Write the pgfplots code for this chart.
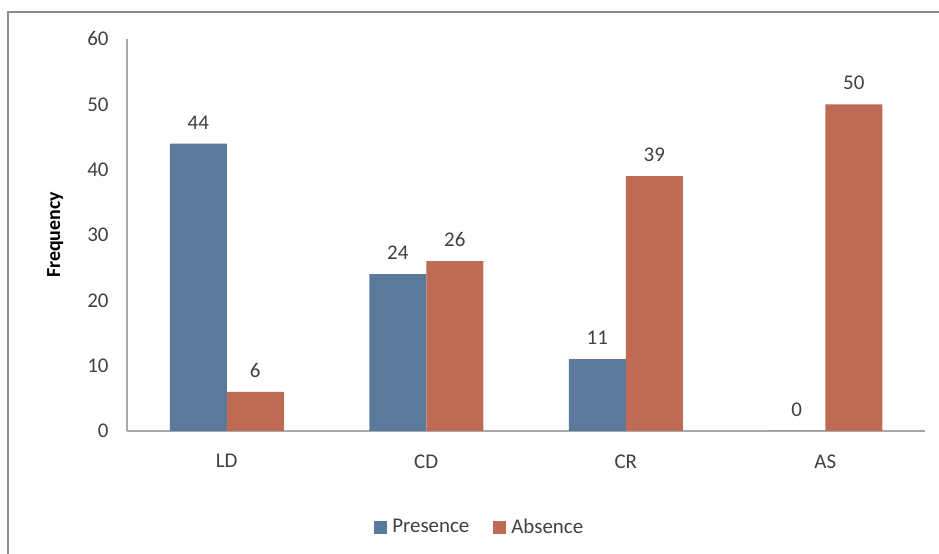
\documentclass[border=0pt]{standalone}
\usepackage{pgfplots}
\pgfplotsset{compat=1.18}
\usepackage{fontspec}
\setmainfont{Carlito}
\definecolor{pres}{HTML}{5B7A9B}
\definecolor{absc}{HTML}{BF6A52}
\definecolor{txt}{HTML}{404040}
\definecolor{axc}{HTML}{A8A8A8}
\begin{document}
\begin{tikzpicture}[x=1bp,y=1bp]
\useasboundingbox (0,0) rectangle (939,554);
\draw[color={rgb,255:red,140;green,140;blue,140}, line width=2bp] (8,0) -- (8,542) -- (939,542);
\begin{axis}[
  at={(127bp,123bp)}, anchor=south west,
  scale only axis, width=798bp, height=392bp,
  ymin=0, ymax=60, xmin=-0.5, xmax=3.5,
  ytick={0,10,20,30,40,50,60},
  xtick={0,1,2,3}, xticklabels={LD,CD,CR,AS},
  axis x line*=bottom, axis y line*=left,
  axis line style={axc, line width=1.5bp},
  major tick length=0pt,
  /pgf/number format/assume math mode=true,
  tick label style={font=\fontsize{21}{25}\selectfont, text=txt},
  yticklabel style={xshift=-15bp},
  xticklabel style={yshift=-20bp},
  ylabel={Frequency},
  every axis y label/.style={at={(axis description cs:-0.09,0.5)}, rotate=90, anchor=center,
    font=\bfseries\fontsize{20}{24}\selectfont, text=black},
  ybar=0pt, bar width=57bp,
  nodes near coords,
  every node near coord/.append style={font=\fontsize{21}{25}\selectfont, text=txt, yshift=11bp},
  legend style={draw=none, fill=none, legend columns=2, at={(0.442,-0.245)}, anchor=center,
    font=\fontsize{21}{25}\selectfont, text=txt,
    /tikz/every odd column/.append style={column sep=3bp},
    /tikz/every even column/.append style={column sep=22bp}},
  legend image code/.code={\fill[#1] (0bp,-6.5bp) rectangle (13bp,6.5bp);},
]
\addplot[fill=pres, draw=none] coordinates {(0,44) (1,24) (2,11) (3,0)};
\addplot[fill=absc, draw=none] coordinates {(0,6) (1,26) (2,39) (3,50)};
\legend{Presence, Absence}
\end{axis}
\end{tikzpicture}
\end{document}
